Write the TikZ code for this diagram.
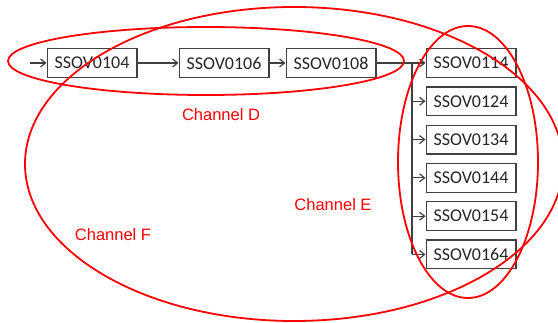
\documentclass[tikz,border=0pt]{standalone}
\usepackage{fontspec}
\setmainfont{Carlito}
\newfontfamily\chanfont{Liberation Sans}
\usepackage{tikz}
\usetikzlibrary{arrows.meta,positioning}

\begin{document}
\begin{tikzpicture}[
  x=1pt, y=-1pt,
  box/.style={rectangle, draw=black!75, line width=1.3pt, fill=white,
              minimum width=89.7pt, minimum height=28.7pt, inner sep=0pt,
              text=black!85, font=\fontsize{18}{20}\selectfont},
  arrow/.style={-{Straight Barb[length=5pt,width=8pt]}, line width=1.2pt, draw=black!75},
  chan/.style={draw=red, line width=1.8pt},
  chanlabel/.style={text=red, font=\chanfont\fontsize{16.5}{18}\selectfont},
  node distance=8.3pt,
]
  \useasboundingbox (0,0) rectangle (558,323);

  % top row
  \node[box] (s0104) at (92,63) {SSOV0104};
  \node[box, right=41pt of s0104] (s0106) {SSOV0106};
  \node[box, right=16pt of s0106] (s0108) {SSOV0108};
  \node[box, right=49pt of s0108] (s0114) {SSOV0114};

  % right column
  \node[box, below=of s0114] (s0124) {SSOV0124};
  \node[box, below=of s0124] (s0134) {SSOV0134};
  \node[box, below=of s0134] (s0144) {SSOV0144};
  \node[box, below=of s0144] (s0154) {SSOV0154};
  \node[box, below=of s0154] (s0164) {SSOV0164};

  \coordinate (entry) at (30,63);
  \coordinate (bus) at (412,63);
  \coordinate (busend) at (bus |- s0164);

  \draw[arrow] (entry) -- (s0104);
  \draw[arrow] (s0104) -- (s0106);
  \draw[arrow] (s0106) -- (s0108);
  \draw[arrow] (s0108) -- (s0114);
  \draw[line width=1.2pt, draw=black!75] (bus) -- (busend);
  \draw[arrow] (bus |- s0124) -- (s0124);
  \draw[arrow] (bus |- s0134) -- (s0134);
  \draw[arrow] (bus |- s0144) -- (s0144);
  \draw[arrow] (bus |- s0154) -- (s0154);
  \draw[arrow] (busend) -- (s0164);

  % channels
  \draw[chan] (206,61) ellipse [x radius=198, y radius=34];
  \draw[chan] (468,162) ellipse [x radius=70, y radius=136];
  \draw[chan] (294,164) ellipse [x radius=269, y radius=157];

  \node[chanlabel] (chD) at (221,115) {Channel D};
  \node[chanlabel] (chE) at (333,205) {Channel E};
  \node[chanlabel] (chF) at (113,235) {Channel F};
\end{tikzpicture}
\end{document}
